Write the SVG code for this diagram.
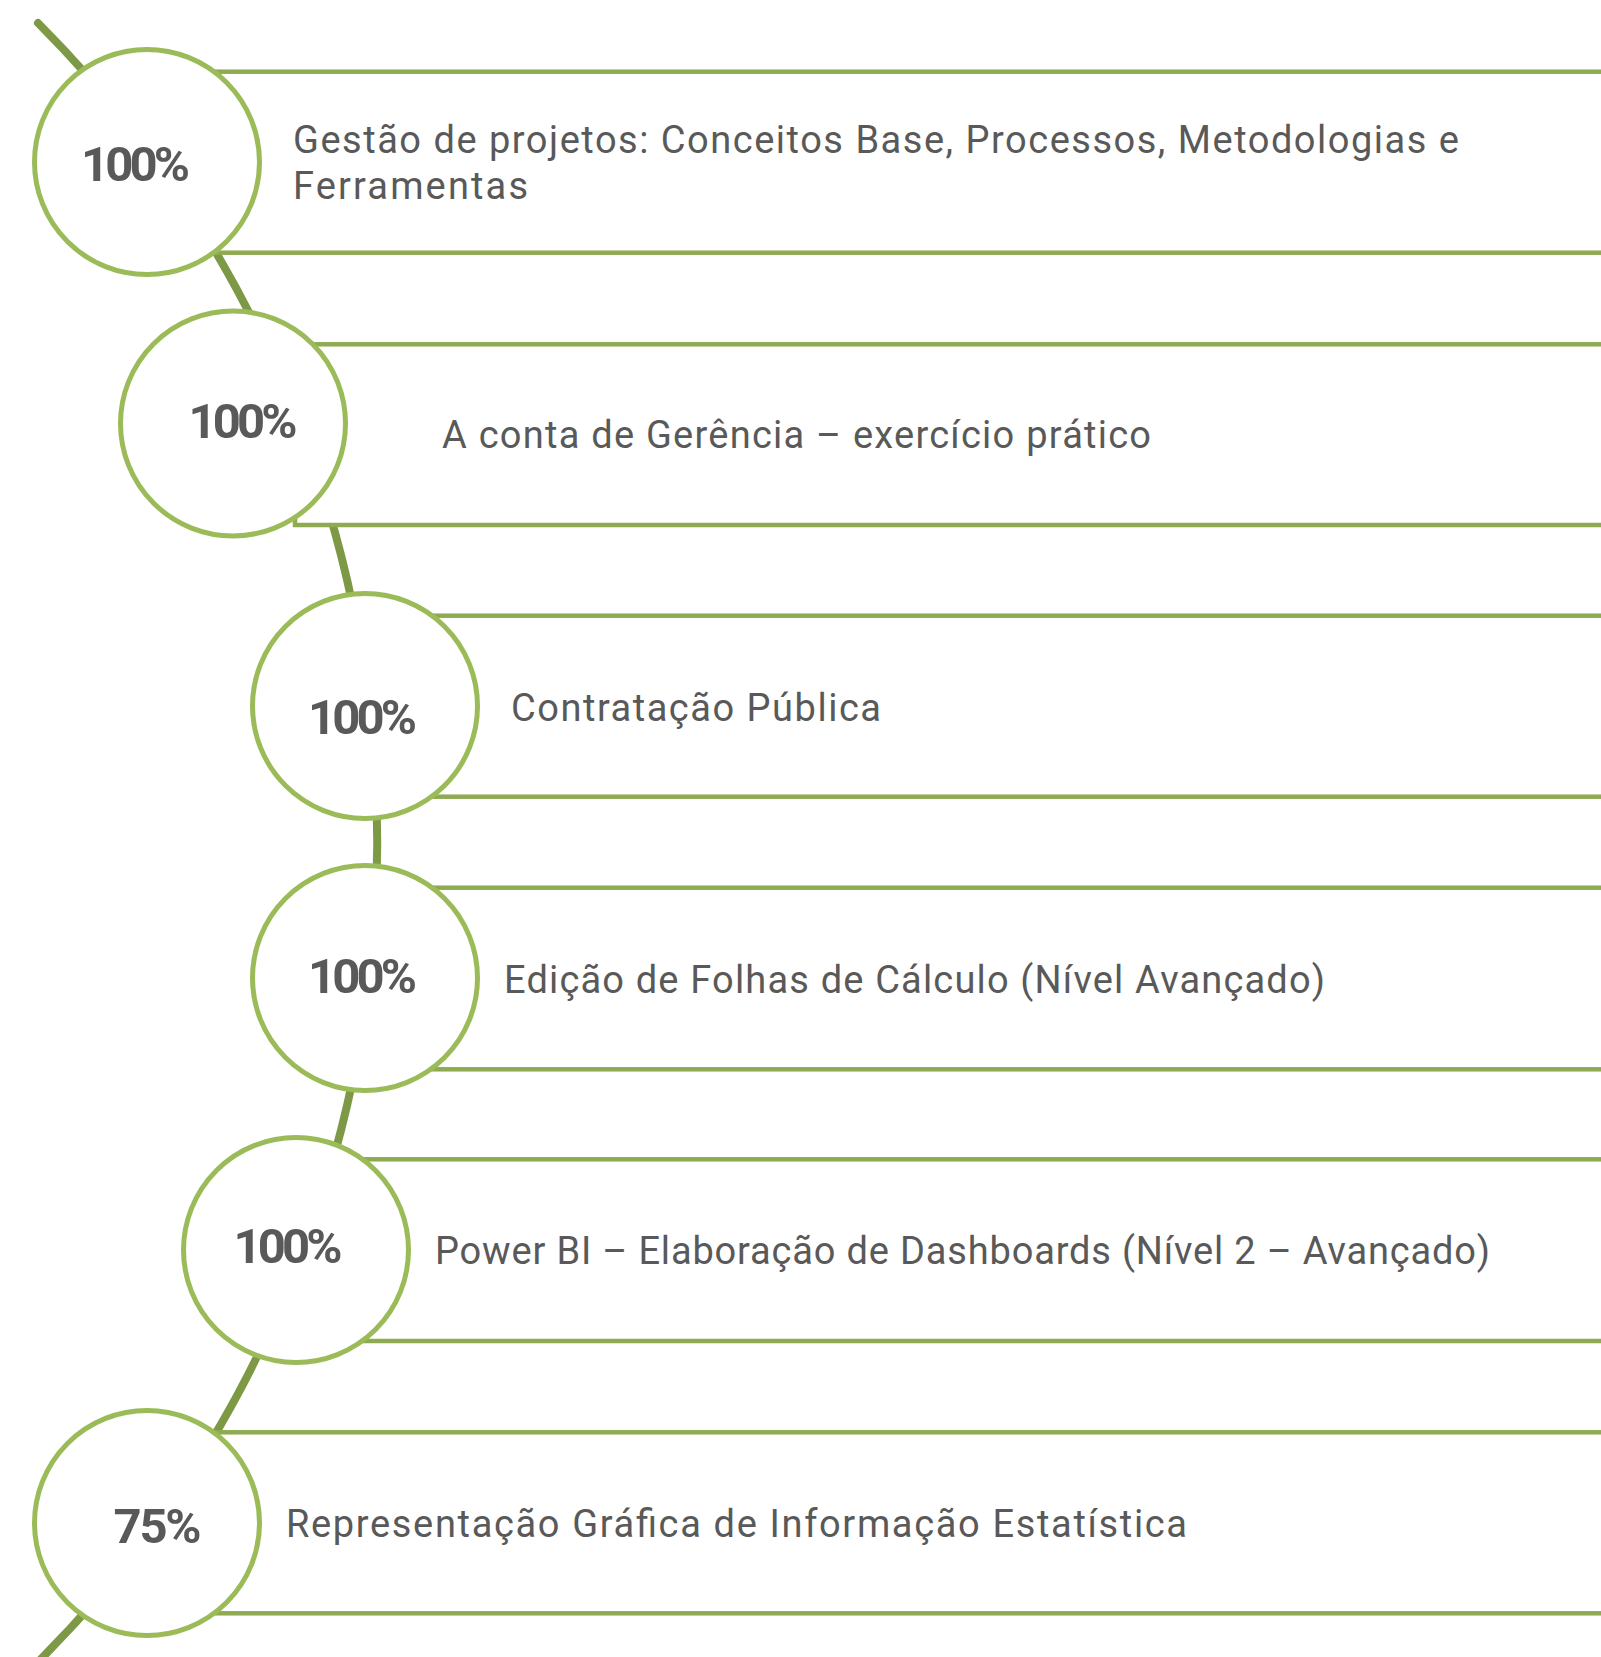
<svg xmlns="http://www.w3.org/2000/svg" width="1601" height="1657" viewBox="0 0 1601 1657">
<style>
.conn{fill:none;stroke:#7D9946;stroke-width:8;stroke-linecap:round}
.band{fill:#fff;stroke:#8EAB52;stroke-width:4.5}
.ring{fill:#fff;stroke:#9BBB59;stroke-width:5}
.pct{font-family:Roboto,"Liberation Sans",sans-serif;font-weight:700;font-size:49px;fill:#595959}
.lbl{font-family:Roboto,"Liberation Sans",sans-serif;font-size:38px;fill:#595959}
</style>
<rect width="1601" height="1657" fill="#fff"/>
<g id="connectors">
<path class="conn" d="M38,23 A1159,1159 0 0 1 38,1662"/>
</g>
<g id="node1">
<rect class="band" x="147" y="71.7" width="1480" height="181"/>
<circle class="ring" cx="147" cy="162" r="112.5"/>
<text class="pct" x="81" y="180.7" textLength="109">100%</text>
<text class="lbl" x="293" y="153.3" textLength="1166">Gestão de projetos: Conceitos Base, Processos, Metodologias e</text>
<text class="lbl" x="293" y="199.3" textLength="235">Ferramentas</text>
</g>
<g id="node2">
<rect class="band" x="295" y="344.3" width="1330" height="180.7"/>
<circle class="ring" cx="233" cy="423.5" r="112.5"/>
<text class="pct" x="188.5" y="437.7" textLength="109">100%</text>
<text class="lbl" x="442" y="448.3" textLength="709">A conta de Gerência – exercício prático</text>
</g>
<g id="node3">
<rect class="band" x="365" y="615.7" width="1260" height="181"/>
<circle class="ring" cx="365" cy="706" r="112.5"/>
<text class="pct" x="308" y="734.3" textLength="109">100%</text>
<text class="lbl" x="511" y="721" textLength="370">Contratação Pública</text>
</g>
<g id="node4">
<rect class="band" x="365" y="887.7" width="1260" height="181.6"/>
<circle class="ring" cx="365" cy="978" r="112.5"/>
<text class="pct" x="308" y="992.7" textLength="109">100%</text>
<text class="lbl" x="504" y="992.5" textLength="821">Edição de Folhas de Cálculo (Nível Avançado)</text>
</g>
<g id="node5">
<rect class="band" x="296" y="1159.3" width="1330" height="181.7"/>
<circle class="ring" cx="296" cy="1250" r="112.5"/>
<text class="pct" x="233.5" y="1262.7" textLength="109">100%</text>
<text class="lbl" x="435" y="1264" textLength="1055">Power BI – Elaboração de Dashboards (Nível 2 – Avançado)</text>
</g>
<g id="node6">
<rect class="band" x="147" y="1432.3" width="1480" height="181"/>
<circle class="ring" cx="147" cy="1523" r="112.5"/>
<text class="pct" x="113.5" y="1542.7" textLength="88">75%</text>
<text class="lbl" x="286" y="1537" textLength="901">Representação Gráfica de Informação Estatística</text>
</g>
</svg>
